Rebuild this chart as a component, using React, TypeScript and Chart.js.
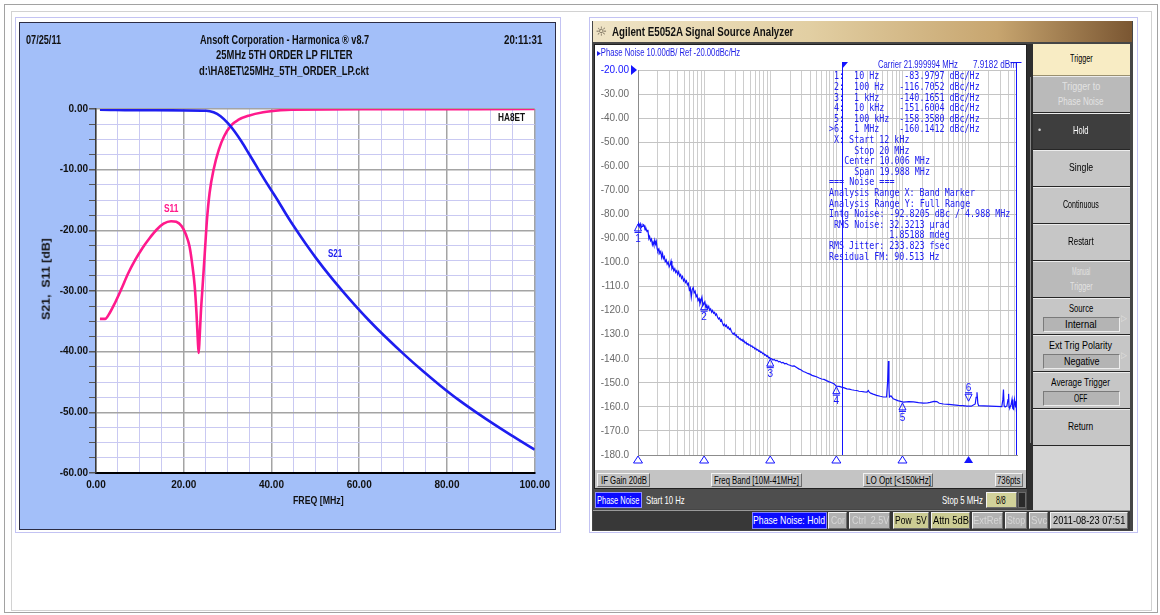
import React, { useEffect, useLayoutEffect, useRef, useState } from 'react';
import { Chart, registerables } from 'chart.js';
Chart.register(...registerables);

// ---------------- Left chart data (Harmonica LP filter) ----------------
const s21Freq = [0.9, 11.4, 25.1, 26.8, 28.4, 30, 31.6, 33.2, 34.8, 36.5, 38.1, 39.7, 41.3, 43.3, 45.4, 47.8, 50.2, 53.4, 56.3, 59.1, 62.3, 65.6, 70.4, 74.5, 78.5, 82.5, 86.6, 90.6, 94.6, 100];
const s21Db = [-0.1, -0.2, -0.3, -0.55, -1.2, -2.3, -3.7, -5.4, -7.3, -9.34, -11.26, -13.11, -14.91, -17.3, -19.67, -22.22, -24.62, -27.6, -30.1, -32.4, -34.9, -37.3, -40.57, -43.19, -45.6, -47.86, -49.96, -51.9, -53.75, -56.15];
const s11Freq = [0.9, 2.1, 2.9, 4.1, 5.7, 7.4, 9, 10.6, 12.2, 13.8, 15.4, 17.1, 18.3, 19.5, 20.5, 21.3, 21.9, 22.5, 22.9, 23.2, 23.4, 23.6, 23.9, 24.3, 24.8, 25.3, 25.9, 26.8, 28, 29.2, 30.8, 32.4, 34.8, 38.1, 42.1, 44.5, 63.5, 100];
const s11Db = [-34.6, -34.6, -33.9, -32.3, -29.8, -27, -24.8, -22.9, -21.3, -19.9, -18.9, -18.5, -18.6, -19.3, -20.7, -22.6, -25.4, -29.2, -33.6, -38, -40.2, -38, -33.6, -29.2, -23.7, -18.2, -13.8, -10, -6.7, -4.5, -2.7, -1.8, -1.1, -0.55, -0.2, -0.1, -0.05, 0];
const leftXTicks = { min: 0, max: 100, step: 5, labelEvery: 20 };
const leftYTicks = { min: -60, max: 0, step: 2.5, labelEvery: 10 };

// ---------------- Right chart data (E5052A phase noise) ----------------
const pnFreq = [
  10, 10.2, 10.5, 10.8, 11.1, 11.5, 11.9, 12.4, 12.8, 13.2, 13.7, 14.1, 14.6, 15, 15.5, 16, 16.5, 16.9, 17.4, 17.9, 18.4, 18.9, 19.5, 20, 20.7, 21.4, 22.1, 22.8, 23.5, 24.2, 25, 25.8, 26.7, 27.6, 28.6, 29.6, 30.6, 31.6, 32.6, 33.7, 34.8, 36, 37.2, 38.5, 39.8, 41.2, 42.6, 44.1, 45.6, 47.2, 48.8, 50.5, 52.2, 54, 55.9, 57.8, 59.8, 61.8, 63.9, 66.1, 68.4, 70.7, 73.1, 75.6, 78.2, 80.9, 83.7, 86.6, 89.6, 92.7, 95.9, 99.2, 102.6, 106.1, 109.7, 113.5, 117.4, 121.4, 125.6, 130, 134, 139, 144, 149, 154, 160, 165, 171, 177, 183, 189, 196, 203, 210, 217, 225, 233, 241, 249, 258, 267, 276, 285, 295, 305, 316, 327, 338, 350, 362, 375, 388, 401, 415, 430, 445, 460, 476, 493, 510, 528, 546, 565, 585, 605, 626, 648, 671, 694, 718, 743, 769, 796, 824, 853, 883, 914, 946, 979, 1013, 1048,
  1100, 1150, 1200, 1270, 1340, 1400, 1480, 1560, 1650, 1740, 1840, 1990, 2150, 2300, 2510, 2700, 2900, 3160, 3400, 3700, 3980, 4300, 4650, 5000, 5500, 6000, 6500, 7100, 7800, 8500, 9200, 10000, 11000, 12000, 13200, 14400, 15700, 17000, 18700, 20400, 22000, 24000, 26500, 28900, 30500, 31500, 33000, 36000, 40700, 46000, 51300, 57500, 59500, 61200, 62500, 63500, 67000, 72400, 85000, 103000, 125000, 147000, 175000, 208000, 240000, 262000, 300000, 331000, 360000, 417000, 500000, 590000, 700000, 820000, 944000, 1100000, 1260000, 1300000, 1340000, 1380000, 1420000, 1700000, 2130000, 2600000, 3180000, 3300000, 3370000, 3450000, 3570000, 3800000, 3950000, 4030000, 4100000, 4200000, 4400000, 4540000, 4650000, 4800000, 4950000, 5050000, 5150000, 5250000, 5300000, 5400000,
];
const pnDb = [
  -84.9, -83.8, -84.6, -83.9, -85.6, -85, -84.2, -84.6, -86.5, -85.8, -87.2, -86.4, -90.1, -89.2, -91, -90.3, -92.6, -91.6, -92.8, -90.8, -92.4, -91.2, -94.2, -95.3, -94.4, -96.2, -95.4, -97.9, -96.3, -98.4, -97.6, -99.6, -98.9, -100.7, -99.8, -101.8, -101, -99.4, -102.6, -101.8, -103.4, -102.6, -104.1, -103.4, -104.9, -103.8, -105.7, -105, -106.6, -105.8, -107.6, -106.9, -108.3, -107.6, -109.3, -108.7, -111.4, -110.6, -114.4, -111.2, -110.4, -112.6, -111.9, -114.2, -113.5, -115.8, -115, -117.2, -115.9, -114.4, -117.8, -117, -116.3, -118.6, -117.7, -119.1, -118.2, -119.9, -119.3, -120.6, -119.9, -121.1, -120.7, -121.9, -121.4, -122.8, -123.5, -123, -124.3, -123.8, -125.1, -126.2, -125.6, -126.5, -126, -127.2, -126.8, -127.8, -127.4, -128.6, -129.3, -129.8, -129.3, -130.3, -130, -131.1, -130.8, -131.7, -131.5, -132.3, -132, -132.8, -132.6, -133.4, -133.1, -134, -133.7, -134.4, -134.2, -134.9, -134.6, -135.3, -135.2, -135.9, -135.7, -136.4, -136.2, -136.9, -136.7, -137.4, -137.2, -137.9, -137.7, -138.5, -138.3, -139, -138.8, -139.6, -139.5, -140.1, -140,
  -140.5, -140.3, -140.8, -140.7, -141.3, -141.1, -141.7, -141.5, -142.1, -141.9, -142.4, -142.7, -143.1, -143, -143.6, -144.2, -144.6, -145.3, -145.6, -146.1, -146.4, -146.9, -147.2, -147.5, -148, -148.4, -148.6, -149.1, -149.6, -150, -150.4, -151.4, -151.5, -151.8, -152.1, -152.5, -152.6, -152.9, -153.1, -153.2, -153.5, -153.6, -153.8, -153.9, -153.2, -153.9, -154.3, -154.7, -155.2, -155.6, -155.9, -155.9, -150, -140.9, -152, -155.9, -155.4, -156.6, -157.4, -158, -157.8, -157.9, -158.2, -158.4, -158.3, -158.1, -157.7, -157.8, -158.5, -158.8, -159, -159.2, -159.4, -159.5, -159.7, -159.7, -158.8, -156, -153.9, -158.5, -159.5, -159.6, -159.7, -159.8, -159.9, -157, -152.8, -159.5, -160, -159.6, -157, -154.6, -160.2, -160.4, -159, -156.9, -160.6, -161, -157, -158.5, -160.2, -157.6, -161.5, -161.3,
];
const markerFreq = [10, 100, 1000, 10000, 100000, 1000000];
const markerDb = [-83.9797, -116.7052, -140.1651, -151.6004, -158.358, -160.1412];
const markerNames = ['1', '2', '3', '4', '5', '6'];
const activeMarker = 5;
const bandStart = 12000;
const bandStop = 20000000;
const pnX = { min: 10, max: 5400000 };
const pnY = { min: -180, max: -20, step: 10, ref: -20 };
const markerLines = [
  ' 1:  10 Hz     -83.9797 dBc/Hz',
  ' 2:  100 Hz   -116.7052 dBc/Hz',
  ' 3:  1 kHz    -140.1651 dBc/Hz',
  ' 4:  10 kHz   -151.6004 dBc/Hz',
  ' 5:  100 kHz  -158.3580 dBc/Hz',
  '>6:  1 MHz    -160.1412 dBc/Hz',
  ' X: Start 12 kHz',
  '     Stop 20 MHz',
  '   Center 10.006 MHz',
  '     Span 19.988 MHz',
  '=== Noise ===',
  'Analysis Range X: Band Marker',
  'Analysis Range Y: Full Range',
  'Intg Noise: -92.8205 dBc / 4.988 MHz',
  ' RMS Noise: 32.3213 µrad',
  '            1.85188 mdeg',
  'RMS Jitter: 233.823 fsec',
  'Residual FM: 90.513 Hz',
];

const SANS = "'Liberation Sans', Arial, sans-serif";
const NARROW = "'Liberation Sans Narrow', 'Liberation Sans', Arial, sans-serif";
const MONO = "'DejaVu Sans Mono', 'Liberation Mono', monospace";
const PINK = '#ff1a8c';
const S21BLUE = '#1e1ef0';
const PNBLUE = '#1414ff';

// ---------------- text helper ----------------
type TxtProps = {
  text: string; x?: number; cx?: number; y: number; w?: number; sx?: number; size?: number;
  color?: string; weight?: number | string; family?: string; rot?: boolean;
};
function Txt(p: TxtProps) {
  const ref = useRef<HTMLSpanElement>(null);
  const [geo, setGeo] = useState<{ k: number; left: number } | null>(null);
  const size = p.size ?? 10;
  useLayoutEffect(() => {
    const el = ref.current;
    if (!el) return;
    const nat = el.offsetWidth || 1;
    const k = p.w ? p.w / nat : p.sx ?? 1;
    const left = p.cx !== undefined ? p.cx - (nat * k) / 2 : p.x ?? 0;
    setGeo({ k, left });
  }, [p.text, p.w, p.sx, p.x, p.cx, size]);
  const lh = size * 1.15;
  const base: React.CSSProperties = {
    position: 'absolute', whiteSpace: 'pre', fontSize: size, lineHeight: `${lh}px`,
    color: p.color ?? '#000', fontWeight: p.weight ?? 400, fontFamily: p.family ?? SANS,
    visibility: geo ? 'visible' : 'hidden',
  };
  if (p.rot) {
    return (
      <span ref={ref} style={{ ...base, left: p.cx, top: p.y, transform: `translate(-50%,-50%) rotate(-90deg) scaleX(${geo?.k ?? 1})` }}>
        {p.text}
      </span>
    );
  }
  return (
    <span ref={ref} style={{ ...base, left: geo?.left ?? p.x ?? 0, top: p.y - lh / 2, transform: `scaleX(${geo?.k ?? 1})`, transformOrigin: '0 50%' }}>
      {p.text}
    </span>
  );
}

function Box({ x, y, w, h, bg, style }: { x: number; y: number; w: number; h: number; bg?: string; style?: React.CSSProperties }) {
  return <div style={{ position: 'absolute', left: x, top: y, width: w, height: h, background: bg, boxSizing: 'border-box', ...style }} />;
}

// ---------------- chart plugins ----------------
const areaBg = {
  id: 'areaBg',
  beforeDraw(chart: any) {
    const { ctx, chartArea: a } = chart;
    ctx.save();
    ctx.fillStyle = '#ffffff';
    ctx.fillRect(a.left, a.top, a.right - a.left, a.bottom - a.top);
    ctx.restore();
  },
};

const pnOverlay = {
  id: 'pnOverlay',
  afterDatasetsDraw(chart: any) {
    const { ctx, chartArea, scales } = chart;
    const { left, right, top, bottom } = chartArea;
    const x = scales.x, y = scales.y;
    ctx.save();
    ctx.strokeStyle = PNBLUE;
    ctx.fillStyle = PNBLUE;
    ctx.lineWidth = 1;
    // band marker start line
    const bx = Math.round(x.getPixelForValue(bandStart)) + 0.5;
    ctx.beginPath(); ctx.moveTo(bx, top - 7); ctx.lineTo(bx, bottom); ctx.stroke();
    ctx.beginPath(); ctx.moveTo(bx - 0.5, top - 8); ctx.lineTo(bx + 5.5, top - 8); ctx.lineTo(bx - 0.5, top - 1); ctx.closePath(); ctx.fill();
    // band stop (clamped to right edge)
    const sx = Math.round(Math.min(x.getPixelForValue(bandStop), right)) - 0.5;
    ctx.beginPath(); ctx.moveTo(sx, top - 7); ctx.lineTo(sx, bottom); ctx.stroke();
    ctx.beginPath(); ctx.moveTo(sx - 6, top - 7.5); ctx.lineTo(sx + 5, top - 7.5); ctx.stroke();
    // reference triangle
    const ry = y.getPixelForValue(pnY.ref);
    ctx.beginPath(); ctx.moveTo(left - 7, ry - 5); ctx.lineTo(left - 7, ry + 5); ctx.lineTo(left - 1, ry); ctx.closePath(); ctx.fill();
    // markers
    ctx.font = `10px ${SANS}`;
    ctx.textAlign = 'center';
    ctx.textBaseline = 'middle';
    markerFreq.forEach((f, i) => {
      const px = x.getPixelForValue(f);
      const py = y.getPixelForValue(markerDb[i]);
      ctx.beginPath();
      if (i === activeMarker) {
        const t = py - 6;
        ctx.moveTo(px, t); ctx.lineTo(px - 3.5, t - 7); ctx.lineTo(px + 3.5, t - 7); ctx.closePath();
        ctx.stroke();
        ctx.beginPath(); ctx.moveTo(px - 3.5, t - 8.5); ctx.lineTo(px + 3.5, t - 8.5); ctx.stroke();
        ctx.fillText(markerNames[i], px, t - 13);
      } else {
        ctx.moveTo(px, py); ctx.lineTo(px - 3.5, py + 7); ctx.lineTo(px + 3.5, py + 7); ctx.closePath();
        ctx.stroke();
        ctx.beginPath(); ctx.moveTo(px - 3.5, py + 8.5); ctx.lineTo(px + 3.5, py + 8.5); ctx.stroke();
        ctx.fillText(markerNames[i], px, py + 15);
      }
      // stimulus indicator on the x axis
      const by = bottom + 1;
      ctx.beginPath(); ctx.moveTo(px, by); ctx.lineTo(px - 4.5, by + 7); ctx.lineTo(px + 4.5, by + 7); ctx.closePath();
      if (i === activeMarker) ctx.fill(); else ctx.stroke();
    });
    ctx.restore();
  },
};

function leftConfig(): any {
  const isMajorX = (v: number) => Math.abs(v % leftXTicks.labelEvery) < 1e-9;
  const isMajorY = (v: number) => Math.abs(v % leftYTicks.labelEvery) < 1e-9;
  return {
    type: 'line',
    data: {
      datasets: [
        { label: 'S21', data: s21Freq.map((x, i) => ({ x, y: s21Db[i] })), borderColor: S21BLUE, borderWidth: 2.6, pointRadius: 0, cubicInterpolationMode: 'monotone', fill: false },
        { label: 'S11', data: s11Freq.map((x, i) => ({ x, y: s11Db[i] })), borderColor: PINK, borderWidth: 2.6, pointRadius: 0, cubicInterpolationMode: 'monotone', fill: false },
      ],
    },
    options: {
      animation: false, responsive: false, devicePixelRatio: 1,
      layout: { padding: { left: 0, right: 16, top: 87, bottom: 0 } },
      plugins: { legend: { display: false }, tooltip: { enabled: false } },
      scales: {
        x: {
          type: 'linear', min: leftXTicks.min, max: leftXTicks.max,
          afterFit: (s: any) => { s.height = 57; },
          ticks: {
            stepSize: leftXTicks.step, autoSkip: false, maxRotation: 0, padding: 6, color: '#111',
            font: { family: NARROW, size: 10, weight: 'bold' },
            callback: (v: any) => (isMajorX(Number(v)) ? Number(v).toFixed(2) : ''),
          },
          grid: {
            drawTicks: false,
            color: (c: any) => (c.tick && isMajorX(c.tick.value) ? '#a4a4a4' : '#c9c9f2'),
            lineWidth: (c: any) => (c.tick && isMajorX(c.tick.value) ? 1.5 : 1),
          },
          border: { color: '#000', width: 2 },
        },
        y: {
          min: leftYTicks.min, max: leftYTicks.max,
          afterFit: (s: any) => { s.width = 77; },
          ticks: {
            stepSize: leftYTicks.step, autoSkip: false, padding: 1, color: '#111',
            font: { family: NARROW, size: 10, weight: 'bold' },
            callback: (v: any) => (isMajorY(Number(v)) ? (Number(v) === 0 ? 0 : Number(v)).toFixed(2) : ''),
          },
          grid: {
            tickLength: 7,
            tickColor: '#555',
            color: (c: any) => (c.tick && isMajorY(c.tick.value) ? '#a4a4a4' : '#c9c9f2'),
            lineWidth: (c: any) => (c.tick && isMajorY(c.tick.value) ? 1.5 : 1),
          },
          border: { color: '#3a3a3a', width: 1.5 },
        },
      },
    },
    plugins: [areaBg],
  };
}

function rightConfig(): any {
  const gridTicks: number[] = [];
  for (let d = 10; d < pnX.max; d *= 10) {
    for (let m = 1; m <= 9; m++) if (d * m <= pnX.max) gridTicks.push(d * m);
  }
  return {
    type: 'line',
    data: {
      datasets: [
        { label: 'Phase Noise', data: pnFreq.map((x, i) => ({ x, y: pnDb[i] })), borderColor: PNBLUE, borderWidth: 1.2, pointRadius: 0, tension: 0, fill: false },
      ],
    },
    options: {
      animation: false, responsive: false, devicePixelRatio: 1,
      layout: { padding: { left: 0, right: 9, top: 26, bottom: 0 } },
      plugins: { legend: { display: false }, tooltip: { enabled: false } },
      scales: {
        x: {
          type: 'logarithmic', min: pnX.min, max: pnX.max,
          afterBuildTicks: (s: any) => { s.ticks = gridTicks.map((value) => ({ value })); },
          afterFit: (s: any) => { s.height = 10; },
          ticks: { display: false, autoSkip: false },
          grid: { drawTicks: false, color: '#cdcdcd' },
          border: { color: '#8c8c8c' },
        },
        y: {
          min: pnY.min, max: pnY.max,
          afterFit: (s: any) => { s.width = 44; },
          ticks: {
            stepSize: pnY.step, autoSkip: false, padding: 9,
            font: { family: NARROW, size: 10 },
            color: (c: any) => (c.tick && c.tick.value === pnY.ref ? '#1414ff' : '#6a6a6a'),
            callback: (v: any) => (Math.abs(Number(v)) < 100 ? Number(v).toFixed(2) : Number(v).toFixed(1)),
          },
          grid: { drawTicks: false, color: '#c4c4c4' },
          border: { color: '#8c8c8c' },
        },
      },
    },
    plugins: [areaBg, pnOverlay],
  };
}

function ChartCanvas({ x, y, w, h, make }: { x: number; y: number; w: number; h: number; make: () => any }) {
  const ref = useRef<HTMLCanvasElement>(null);
  useEffect(() => {
    const chart = new Chart(ref.current as HTMLCanvasElement, make());
    return () => chart.destroy();
  }, []);
  return <canvas ref={ref} width={w} height={h} style={{ position: 'absolute', left: x, top: y, width: w, height: h }} />;
}

const bevel: React.CSSProperties = { borderTop: '1px solid #f2f2f2', borderLeft: '1px solid #f2f2f2', borderBottom: '1px solid #6c6c6c', borderRight: '1px solid #6c6c6c' };

function SoftKey({ top, lines, widths, disabled, selected, sub, subW, arrow }: { top: number; lines: string[]; widths: number[]; disabled?: boolean; selected?: boolean; sub?: string; subW?: number; arrow?: boolean }) {
  const bg = selected ? '#3e3e3e' : disabled ? '#bababa' : '#c6c6c6';
  const fg = selected ? '#ffffff' : disabled ? '#e2e2e2' : '#000000';
  const cx = 1081;
  return (
    <>
      <Box x={1033} y={top} w={97} h={37} bg={bg} style={{ borderTop: '1px solid #ececec', borderBottom: '1px solid #262626' }} />
      {selected && <Txt text="•" x={1038} y={top + 17} size={9} color="#cfcfcf" />}
      {sub ? (
        <>
          <Txt text={lines[0]} cx={cx} y={top + 10} w={widths[0]} size={10.5} color={fg} />
          <Box x={1043} y={top + 19} w={77} h={15} bg="#b4b4b4" style={{ borderTop: '1px solid #7a7a7a', borderLeft: '1px solid #7a7a7a', borderBottom: '1px solid #ececec', borderRight: '1px solid #ececec' }} />
          <Txt text={sub} cx={cx} y={top + 26.5} w={subW} size={10.5} color="#000" />
          {arrow && <Txt text="▷" x={1121} y={top + 20} w={6} size={9} color="#e0e0e0" family="'DejaVu Sans', sans-serif" />}
        </>
      ) : lines.length === 2 ? (
        <>
          <Txt text={lines[0]} cx={cx} y={top + 10} w={widths[0]} size={10.5} color={fg} />
          <Txt text={lines[1]} cx={cx} y={top + 25} w={widths[1]} size={10.5} color={fg} />
        </>
      ) : (
        <Txt text={lines[0]} cx={cx} y={top + 17} w={widths[0]} size={10.5} color={fg} />
      )}
    </>
  );
}

export default function App() {
  return (
    <div style={{ position: 'absolute', left: 0, top: 0, width: 1160, height: 615, background: '#ffffff', overflow: 'hidden', fontFamily: SANS }}>
      {/* page frames */}
      <Box x={4} y={4} w={1154} h={609} style={{ border: '1px solid #a2a2a2' }} />
      <Box x={11} y={11} w={1141} h={600} style={{ border: '1px solid #d2d2d2' }} />

      {/* ---------- Left panel ---------- */}
      <Box x={15} y={17} w={546} h={516} style={{ border: '1px solid #c3c3f3' }} />
      <Box x={19} y={22} w={537} h={508} bg="#a3bff9" style={{ border: '1px solid #2c2c44' }} />
      <ChartCanvas x={19} y={22} w={537} h={508} make={leftConfig} />
      <Txt text="07/25/11" x={26} y={41} w={35} size={12} weight={700} family={NARROW} color="#111" />
      <Txt text="Ansoft Corporation - Harmonica ® v8.7" x={199.6} y={41} w={169.5} size={12} weight={700} family={NARROW} color="#111" />
      <Txt text="25MHz 5TH ORDER LP FILTER" x={215.7} y={56.3} w={137} size={12} weight={700} family={NARROW} color="#111" />
      <Txt text="d:\HA8ET\25MHz_5TH_ORDER_LP.ckt" x={199} y={71.7} w={170} size={12} weight={700} family={NARROW} color="#111" />
      <Txt text="20:11:31" x={504} y={41} w={38} size={12} weight={700} family={NARROW} color="#111" />
      <Txt text="S21,  S11 [dB]" cx={45.5} y={279} w={82} size={11} weight={700} rot color="#111" />
      <Txt text="FREQ [MHz]" x={292.8} y={500} w={51} size={11} weight={700} family={NARROW} color="#111" />
      <Txt text="S11" x={163.7} y={208.3} w={14.5} size={11} weight={700} family={NARROW} color={PINK} />
      <Txt text="S21" x={327.5} y={253} w={14.5} size={11} weight={700} family={NARROW} color={S21BLUE} />
      <Txt text="HA8ET" x={497.8} y={117.3} w={27} size={11} weight={700} family={NARROW} color="#111" />

      {/* ---------- Right panel ---------- */}
      <Box x={589} y={17} w={549} h={516} style={{ border: '1px solid #c3c3f3' }} />
      <Box x={592} y={21} w={541} h={510} bg="#464646" />
      <Box x={593} y={21} w={539} h={21} style={{ background: 'linear-gradient(to right, #efe4c6 0%, #e2cfa3 40%, #c7a56f 75%, #7a5632 100%)' }} />
      <Txt text="☼" cx={601.5} y={32} size={13} color="#5a5040" family="'DejaVu Sans', sans-serif" />
      <Txt text="Agilent E5052A Signal Source Analyzer" x={611.7} y={32.5} w={181} size={12.5} weight={700} color="#111" />

      {/* screen */}
      <Box x={594} y={44} w={433} h={445} bg="#c4c4c4" style={{ border: '1px solid #202020' }} />
      <Box x={595} y={45} w={431} h={425} bg="#ffffff" />
      <ChartCanvas x={594} y={44} w={432} h={426} make={rightConfig} />
      <Txt text="▸Phase Noise 10.00dB/ Ref -20.00dBc/Hz" x={597} y={52.5} w={143} size={10} color="#1c1ce6" />
      <Txt text="Carrier 21.999994 MHz" x={878} y={64.7} w={80} size={10} color="#1c1ce6" />
      <Txt text="7.9182 dBm" x={973} y={64.7} w={44} size={10} color="#1c1ce6" />
      {markerLines.map((t, i) => (
        <Txt key={i} text={t} x={829} y={76.7 + i * 10.6} w={t.length * 5.03} size={11} family={MONO} color="#2020f0" />
      ))}

      {/* info band */}
      <Box x={597} y={473} w={53} h={14} bg="#c0c0c0" style={bevel} />
      <Txt text="IF Gain 20dB" x={600.7} y={480.5} w={46} size={10} />
      <Box x={710.7} y={473} w={91} h={14} bg="#c0c0c0" style={bevel} />
      <Txt text="Freq Band [10M-41MHz]" x={714} y={480.5} w={85.3} size={10} />
      <Box x={863} y={473} w={70} h={14} bg="#c0c0c0" style={bevel} />
      <Txt text="LO Opt [<150kHz]" x={866} y={480.5} w={64.7} size={10} />
      <Box x={995} y={473} w={28} h={14} bg="#c0c0c0" style={bevel} />
      <Txt text="736pts" x={996.7} y={480.5} w={23.3} size={10} />

      {/* channel bar */}
      <Box x={594} y={489} w={433} h={20} bg="#4e4e4e" />
      <Box x={595} y={492} w={47} h={16} bg="#0a0aff" style={{ border: '1px solid #9090ff' }} />
      <Txt text="Phase Noise" x={596.7} y={500.5} w={42.7} size={10.5} color="#ffffff" />
      <Txt text="Start 10 Hz" x={646} y={500.5} w={39} size={10.5} color="#ffffff" />
      <Txt text="Stop 5 MHz" x={941.7} y={500.5} w={41} size={10.5} color="#ffffff" />
      <Box x={986} y={492} w={31} h={16} bg="#d2d29a" style={bevel} />
      <Txt text="8/8" x={996} y={500.5} w={10} size={10.5} />
      <Box x={1018} y={492} w={8} h={16} bg="#2a2a2a" style={{ border: '1px solid #6a6a6a' }} />

      {/* status bar */}
      <Box x={593} y={510} w={537} h={20} bg="#383838" style={{ borderTop: '1px solid #9a9a9a' }} />
      <Box x={751.7} y={512} w={75.6} h={17} bg="#0a0aff" style={{ border: '1px solid #8080ff' }} />
      <Txt text="Phase Noise: Hold" x={753} y={520.5} w={72} size={11} color="#ffffff" />
      <Box x={828.3} y={512} w={18.4} h={17} bg="#b2b2b2" style={bevel} />
      <Txt text="Cor" x={830.7} y={520.5} w={14} size={11} color="#d6d6d6" />
      <Box x={849.3} y={512} w={41} h={17} bg="#b2b2b2" style={bevel} />
      <Txt text="Ctrl  2.5V" x={851.7} y={520.5} w={37.3} size={11} color="#d6d6d6" />
      <Box x={893.3} y={512} w={36} h={17} bg="#cbcb93" style={bevel} />
      <Txt text="Pow  5V" x={895} y={520.5} w={31.7} size={11} />
      <Box x={930.7} y={512} w={39.3} h={17} bg="#cbcb93" style={bevel} />
      <Txt text="Attn 5dB" x={932.7} y={520.5} w={35.7} size={11} />
      <Box x={971.7} y={512} w={31.6} h={17} bg="#b2b2b2" style={bevel} />
      <Txt text="ExtRef" x={973.3} y={520.5} w={28.3} size={11} color="#d6d6d6" />
      <Box x={1005} y={512} w={21.7} h={17} bg="#b2b2b2" style={bevel} />
      <Txt text="Stop" x={1006.7} y={520.5} w={18.3} size={11} color="#d6d6d6" />
      <Box x={1029.3} y={512} w={19} h={17} bg="#b2b2b2" style={bevel} />
      <Txt text="Svc" x={1030.7} y={520.5} w={16} size={11} color="#d6d6d6" />
      <Box x={1050} y={512} w={78.3} h={17} bg="#c4c4c4" style={bevel} />
      <Txt text="2011-08-23 07:51" x={1052.7} y={520.5} w={72.3} size={11} />

      {/* softkeys */}
      <Box x={1027} y={44} w={6} h={466} bg="#2e2e2e" />
      <Box x={1030} y={77} w={1} h={366} bg="#8a8a8a" />
      <Box x={1033} y={44} w={97} h={32} bg="#f8ecc4" style={{ borderBottom: '1px solid #9a9070' }} />
      <Txt text="Trigger" cx={1081} y={58} w={22.7} size={10.5} />
      <SoftKey top={76} lines={['Trigger to', 'Phase Noise']} widths={[38.7, 45.7]} disabled />
      <SoftKey top={113} lines={['Hold']} widths={[15.7]} selected />
      <SoftKey top={150} lines={['Single']} widths={[24]} />
      <SoftKey top={187} lines={['Continuous']} widths={[35.7]} />
      <SoftKey top={224} lines={['Restart']} widths={[25.7]} />
      <SoftKey top={261} lines={['Manual', 'Trigger']} widths={[18, 22.7]} disabled />
      <SoftKey top={298} lines={['Source']} widths={[24]} sub="Internal" subW={31.7} arrow />
      <SoftKey top={335} lines={['Ext Trig Polarity']} widths={[63.3]} sub="Negative" subW={35} arrow />
      <SoftKey top={372} lines={['Average Trigger']} widths={[59.3]} sub="OFF" subW={13.3} />
      <SoftKey top={409} lines={['Return']} widths={[25.7]} />
      <Box x={1033} y={446} w={97} h={64} bg="#d4d4d4" />
    </div>
  );
}
